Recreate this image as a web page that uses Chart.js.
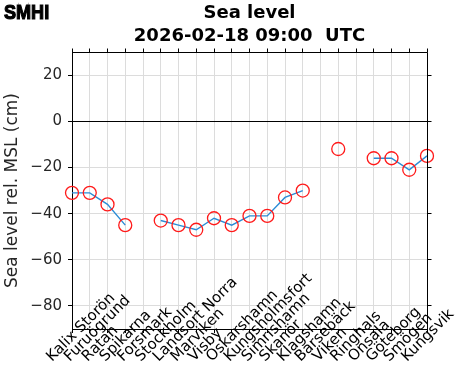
<!DOCTYPE html>
<html>
<head>
<meta charset="utf-8">
<script src="https://cdn.jsdelivr.net/npm/chart.js@4"></script>
<style>
  html, body { margin: 0; padding: 0; background: #fff; }
  canvas { display: block; }
</style>
</head>
<body>
<canvas id="sea-level-chart" width="471" height="371"></canvas>
<script>

// stations along the Swedish coast, north to west
const stations = [
  'Kalix Storön', 'Furuögrund', 'Ratan', 'Spikarna', 'Forsmark', 'Stockholm',
  'Landsort Norra', 'Marviken', 'Visby', 'Oskarshamn', 'Kungsholmsfort',
  'Simrishamn', 'Skanör', 'Klagshamn', 'Barsebäck', 'Viken', 'Ringhals',
  'Onsala', 'Göteborg', 'Smögen', 'Kungsvik'
];
// cm relative to MSL, null = no observation
const seaLevel = [
  -31, -31, -36, -45, null, -43,
  -45, -47, -42, -45, -41,
  -41, -33, -30, null, -12, null,
  -16, -16, -21, -15
];
const yTicks = [-80, -60, -40, -20, 0, 20];
const titleLines = ['Sea level', '2026-02-18 09:00  UTC'];

const ctxSea = document.getElementById('sea-level-chart').getContext('2d');

// top/right frame, outward ticks, slanted station names, logo
const frameAndLabels = {
  id: 'frameAndLabels',
  afterDraw(chart) {
    const ctx = chart.ctx;
    const area = chart.chartArea;
    const xs = chart.scales.x;
    const ys = chart.scales.y;
    const top = Math.floor(area.top) + 0.5;
    const right = Math.floor(area.right) + 0.5;

    ctx.save();
    ctx.strokeStyle = '#000';
    ctx.lineWidth = 1;
    ctx.beginPath();
    ctx.moveTo(area.left, top);
    ctx.lineTo(right, top);
    ctx.lineTo(right, area.bottom + 0.5);
    stations.forEach((s, i) => {
      const x = Math.floor(xs.getPixelForTick(i)) + 0.5;
      ctx.moveTo(x, top);
      ctx.lineTo(x, top - 4);
    });
    yTicks.forEach(v => {
      const y = Math.floor(ys.getPixelForValue(v)) + 0.5;
      ctx.moveTo(right, y);
      ctx.lineTo(right + 4, y);
    });
    ctx.stroke();

    ctx.fillStyle = '#000';
    ctx.font = '15px "DejaVu Sans"';
    ctx.textAlign = 'left';
    ctx.textBaseline = 'alphabetic';
    stations.forEach((s, i) => {
      const x = xs.getPixelForTick(i);
      ctx.save();
      ctx.translate(x - 20, 362);
      ctx.rotate(-Math.PI / 4);
      ctx.fillText(s, 0, 0);
      ctx.restore();
    });

    ctx.font = 'bold 21px "Liberation Sans"';
    ctx.translate(4, 19);
    ctx.scale(0.86, 1);
    ctx.lineWidth = 1.2;
    ctx.fillText('SMHI', 0, 0);
    ctx.strokeText('SMHI', 0, 0);
    ctx.restore();
  }
};

Chart.defaults.font.family = '"DejaVu Sans"';

new Chart(ctxSea, {
  type: 'line',
  data: {
    labels: stations,
    datasets: [{
      label: 'Sea level',
      data: seaLevel,
      borderColor: '#2b8cd6',
      borderWidth: 1.4,
      pointRadius: 6.5,
      pointBorderColor: '#ff1a1a',
      pointBackgroundColor: 'rgba(0,0,0,0)',
      pointBorderWidth: 1.3,
      spanGaps: false,
      tension: 0,
      fill: false,
      clip: false
    }]
  },
  options: {
    responsive: false,
    animation: false,
    layout: { padding: { left: 0, right: 44, top: 0, bottom: 0 } },
    plugins: {
      legend: { display: false },
      tooltip: { enabled: false },
      title: {
        display: true,
        fullSize: false,
        text: titleLines,
        color: '#000',
        font: { size: 18, weight: 'bold', lineHeight: 1.28 },
        padding: { top: 2, bottom: 4 }
      }
    },
    scales: {
      x: {
        type: 'category',
        offset: false,
        grid: { color: '#dcdcdc', tickColor: '#000', tickLength: 4, offset: false },
        border: { color: '#000' },
        ticks: { display: false },
        afterFit: s => { s.height = 42; }
      },
      y: {
        min: -90,
        max: 30,
        afterBuildTicks: s => { s.ticks = yTicks.map(v => ({ value: v })); },
        grid: {
          color: c => (c.tick && c.tick.value === 0 ? '#000' : '#dcdcdc'),
          tickColor: '#000',
          tickLength: 4
        },
        border: { color: '#000' },
        ticks: {
          color: '#262626',
          font: { size: 15 },
          padding: 6,
          callback: v => String(v).replace('-', '\u2212')
        },
        title: {
          display: true,
          text: 'Sea level rel. MSL (cm)',
          color: '#262626',
          font: { size: 17 },
          padding: { top: 2, bottom: 0 }
        },
        afterFit: s => { s.width = 72; }
      }
    }
  },
  plugins: [frameAndLabels]
});
</script>
</body>
</html>
